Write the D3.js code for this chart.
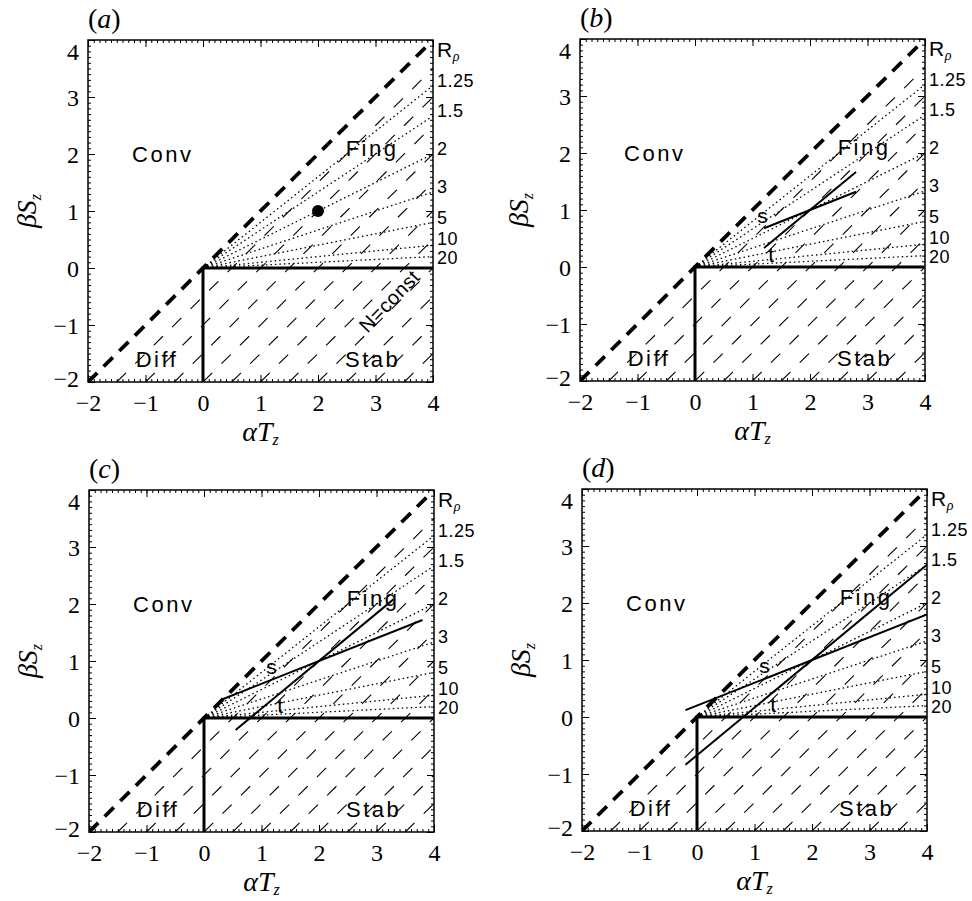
<!DOCTYPE html>
<html>
<head>
<meta charset="utf-8">
<script src="https://cdn.jsdelivr.net/npm/d3@7"></script>
<style>
  body { margin: 0; background: #fff; }
  svg { display: block; }
  .tick text { font-family: "Liberation Serif", "DejaVu Serif", serif; font-size: 24px; fill: #000; }
  .region { font-family: "Liberation Sans", "DejaVu Sans", sans-serif; font-size: 22px; letter-spacing: 2.5px; }
  .rho { font-family: "Liberation Sans", "DejaVu Sans", sans-serif; font-size: 18px; letter-spacing: 0.5px; }
</style>
</head>
<body>
<svg id="fig" width="972" height="901"></svg>
<script>
// axis ranges and ticks
const xDomain = [-2, 4];
const yDomain = [-2, 4];
const xTicks = [-2, -1, 0, 1, 2, 3, 4];
const yTicks = [-2, -1, 0, 1, 2, 3, 4];

// density ratio lines  R_rho = aT/bS
const rhoRatios = [1.25, 1.5, 2, 3, 5, 10, 20];
const rhoLabels = ["1.25", "1.5", "2", "3", "5", "10", "20"];

// N = const hatch lines  y = x - c
const hatchOffsets = [0.5, 1, 1.5, 2, 2.5, 3, 3.5, 4, 4.5, 5, 5.5, 6];

// regions
const regionNames = ["Conv", "Fing", "Diff", "Stab"];
const regionX = [-0.7, 2.94, -0.8, 2.95];
const regionY = [2.0, 2.1, -1.6, -1.6];

// panels
const panelNames = ["a", "b", "c", "d"];
const pivot = [2, 1];
const sSlope = 0.4;
const tSlope = 0.835;
// x extent of the s and t lines in each panel (null = none)
const sExtent = [null, [1.2, 2.8], [0.3, 3.8], [-0.2, 4]];
const tExtent = [null, [1.2, 2.8], [0.55, 3.3], [-0.2, 4]];

const svg = d3.select("#fig");
const W = 345, H = 342;
const origins = [[88, 40], [580, 39], [89, 490], [582, 489]];
const fmt = d3.format("d");

panelNames.forEach((name, i) => {
  const [ox, oy] = origins[i];
  const x = d3.scaleLinear().domain(xDomain).range([0, W]);
  const y = d3.scaleLinear().domain(yDomain).range([H, 0]);
  const g = svg.append("g").attr("transform", `translate(${ox}, ${oy})`);

  g.append("clipPath").attr("id", `clip-${name}`)
    .append("rect").attr("width", W).attr("height", H);
  const plot = g.append("g").attr("clip-path", `url(#clip-${name})`);

  // hatch lines N = const
  plot.selectAll("line.hatch")
    .data(hatchOffsets)
    .enter()
    .append("line")
    .attr("class", "hatch")
    .attr("x1", (c) => x(Math.max(xDomain[0], yDomain[0] + c)))
    .attr("y1", (c) => y(Math.max(xDomain[0], yDomain[0] + c) - c))
    .attr("x2", (c) => x(Math.min(xDomain[1], yDomain[1] + c)))
    .attr("y2", (c) => y(Math.min(xDomain[1], yDomain[1] + c) - c))
    .attr("stroke", "#000")
    .attr("stroke-width", 1.1)
    .attr("stroke-dasharray", "13,13");

  // R_rho dotted rays
  plot.selectAll("line.rho")
    .data(rhoRatios)
    .enter()
    .append("line")
    .attr("class", "rho")
    .attr("x1", x(0))
    .attr("y1", y(0))
    .attr("x2", x(xDomain[1]))
    .attr("y2", (r) => y(xDomain[1] / r))
    .attr("stroke", "#000")
    .attr("stroke-width", 1.3)
    .attr("stroke-dasharray", "1.5,3");

  // N = 0 heavy dashed diagonal
  plot.append("line")
    .attr("x1", x(-2)).attr("y1", y(-2))
    .attr("x2", x(4)).attr("y2", y(4))
    .attr("stroke", "#000")
    .attr("stroke-width", 3.8)
    .attr("stroke-dasharray", "13,9");

  // solid boundaries
  plot.append("path")
    .attr("d", d3.line()([[x(0), y(-2)], [x(0), y(0)], [x(4), y(0)]]))
    .attr("fill", "none")
    .attr("stroke", "#000")
    .attr("stroke-width", 3);

  // s / t lines
  if (sExtent[i]) {
    const lines = [[sSlope, sExtent[i]], [tSlope, tExtent[i]]];
    plot.selectAll("line.st")
      .data(lines)
      .enter()
      .append("line")
      .attr("class", "st")
      .attr("x1", (d) => x(d[1][0]))
      .attr("y1", (d) => y(pivot[1] + d[0] * (d[1][0] - pivot[0])))
      .attr("x2", (d) => x(d[1][1]))
      .attr("y2", (d) => y(pivot[1] + d[0] * (d[1][1] - pivot[0])))
      .attr("stroke", "#000")
      .attr("stroke-width", 2);
    g.append("text").attr("class", "rho")
      .attr("x", x(1.18)).attr("y", y(0.9)).attr("dy", "0.35em")
      .attr("text-anchor", "middle").style("font-size", "21px").text("s");
    g.append("text").attr("class", "rho")
      .attr("x", x(1.33)).attr("y", y(0.22)).attr("dy", "0.35em")
      .attr("text-anchor", "middle").style("font-size", "21px").text("t");
  } else {
    g.append("circle")
      .attr("cx", x(pivot[0])).attr("cy", y(pivot[1]))
      .attr("r", 6).attr("fill", "#000");
    g.append("text").attr("class", "rho")
      .attr("transform", `translate(${x(3.24)}, ${y(-0.58)}) rotate(-46)`)
      .attr("text-anchor", "middle").attr("dy", "0.35em")
      .style("font-size", "20px")
      .text("N=const");
  }

  // region names
  regionNames.forEach((r, k) => {
    g.append("text").attr("class", "region")
      .attr("x", x(regionX[k])).attr("y", y(regionY[k]))
      .attr("dy", "0.35em").attr("text-anchor", "middle")
      .text(r);
  });

  // axes: minor then major ticks, inward
  g.append("g").attr("transform", `translate(0, ${H})`)
    .call(d3.axisBottom(x).ticks(60).tickSize(-3).tickFormat(""));
  g.append("g").call(d3.axisTop(x).ticks(60).tickSize(-3).tickFormat(""));
  g.append("g").call(d3.axisLeft(y).ticks(60).tickSize(-3).tickFormat(""));
  g.append("g").attr("transform", `translate(${W}, 0)`)
    .call(d3.axisRight(y).ticks(60).tickSize(-3).tickFormat(""));

  g.append("g").attr("transform", `translate(0, ${H})`)
    .call(d3.axisBottom(x).tickValues(xTicks).tickSize(-7).tickPadding(12).tickFormat(fmt));
  g.append("g")
    .call(d3.axisLeft(y).tickValues(yTicks).tickSize(-7).tickPadding(9).tickFormat(fmt))
    .selectAll(".tick text")
    .attr("dy", (d) => (d === 4 ? "0.8em" : d === -2 ? "0.2em" : "0.35em"));
  g.append("g").call(d3.axisTop(x).tickValues(xTicks).tickSize(-7).tickFormat(""));
  g.append("g").attr("transform", `translate(${W}, 0)`)
    .call(d3.axisRight(y).tickValues(yTicks).tickSize(-7).tickFormat(""));
  g.selectAll(".domain").remove();
  g.selectAll(".tick line").attr("stroke-width", 1);

  g.append("rect").attr("width", W).attr("height", H)
    .attr("fill", "none").attr("stroke", "#000").attr("stroke-width", 1.5);

  // R_rho labels on the right
  g.selectAll("text.rlab")
    .data(rhoRatios)
    .enter()
    .append("text")
    .attr("class", "rho")
    .attr("x", W + 4)
    .attr("y", (r, k) => y(xDomain[1] / r) - (k === rhoRatios.length - 1 ? -1 : k === 5 ? 7 : 5))
    .attr("dy", "0.35em")
    .text((r, k) => rhoLabels[k]);
  const rl = g.append("text").attr("class", "rho")
    .attr("x", W + 4).attr("y", 17).style("font-size", "21px");
  rl.append("tspan").text("R");
  rl.append("tspan").attr("dy", 4).style("font-size", "14px")
    .style("font-style", "italic").style("font-family", "'Liberation Serif', serif").text("ρ");

  // axis titles
  const xt = g.append("text")
    .attr("x", W / 2).attr("y", H + 59)
    .attr("text-anchor", "middle")
    .style("font-family", "'Liberation Serif', serif")
    .style("font-style", "italic").style("font-size", "28px");
  xt.append("tspan").text("αT");
  xt.append("tspan").attr("dy", 4).style("font-size", "16px").text("z");

  const yt = g.append("text")
    .attr("transform", `translate(-52, ${H / 2}) rotate(-90)`)
    .attr("text-anchor", "middle")
    .style("font-family", "'Liberation Serif', serif")
    .style("font-style", "italic").style("font-size", "28px");
  yt.append("tspan").text("βS");
  yt.append("tspan").attr("dy", 5).style("font-size", "16px").text("z");

  // panel label
  const pl = g.append("text")
    .attr("x", 0).attr("y", -12)
    .style("font-family", "'Liberation Serif', serif")
    .style("font-size", "28px");
  pl.append("tspan").text("(");
  pl.append("tspan").style("font-style", "italic").text(name);
  pl.append("tspan").text(")");
});
</script>
</body>
</html>
